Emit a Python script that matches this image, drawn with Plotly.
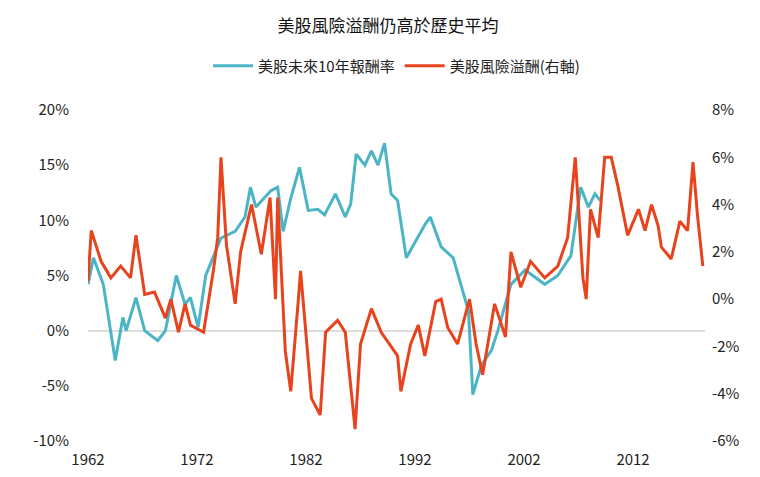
import plotly.graph_objects as go

blue_years = [1962.0,1962.5,1963.4,1964.5,1965.2,1965.5,1966.4,1967.2,1968.4,1969.1,1970.1,1970.9,1971.4,1972.1,1972.8,1974.2,1975.5,1976.4,1976.9,1977.4,1978.8,1979.4,1979.9,1980.6,1981.4,1982.2,1983.1,1983.7,1984.7,1985.6,1986.1,1986.6,1987.4,1988.0,1988.6,1989.2,1989.8,1990.4,1991.2,1991.6,1992.9,1993.4,1994.4,1995.5,1996.2,1996.9,1997.3,1998.1,1999.0,1999.6,2000.8,2002.1,2003.9,2005.1,2006.3,2007.2,2007.9,2008.5,2009.0]
blue_vals = [4.2,6.6,4.2,-2.7,1.2,0,3,0,-0.9,0,5,2.4,3,0.3,5,8.4,9,10.3,13,11.2,12.7,13,9,12,14.8,10.9,11,10.5,12.4,10.3,11.5,16,15,16.3,15,17,12.4,11.8,6.6,7.3,9.6,10.3,7.6,6.6,4.2,1.8,-5.8,-3.1,-1.8,0,4.2,5.5,4.2,5,6.8,13,11.2,12.4,11.8]

red_years = [1962.0,1962.3,1963.2,1964.1,1965.0,1965.9,1966.4,1967.2,1968.1,1969.1,1969.6,1970.3,1970.9,1971.4,1972.6,1973.5,1973.9,1974.2,1974.7,1975.5,1976.0,1977.0,1977.9,1978.7,1979.2,1979.4,1980.1,1980.6,1981.3,1981.5,1982.5,1983.3,1983.8,1984.9,1985.6,1986.5,1987.0,1988.0,1988.9,1990.0,1990.4,1990.7,1991.6,1992.3,1992.9,1993.9,1994.4,1995.0,1995.9,1997.0,1997.6,1998.2,1999.3,2000.3,2000.8,2001.7,2002.6,2003.9,2005.1,2006.0,2006.7,2007.4,2007.7,2008.1,2008.8,2009.4,2010.0,2010.6,2011.5,2012.5,2013.1,2013.7,2014.3,2014.6,2015.5,2016.3,2017.0,2017.5,2017.9,2018.4]
red_vals = [0.77,2.9,1.6,0.9,1.4,0.9,2.7,0.2,0.3,-0.8,0,-1.4,-0.2,-1.1,-1.4,1.2,2.6,6,2.3,-0.2,2,4,1.9,4.3,0,4.3,-2.2,-3.9,0,1.2,-4.2,-4.9,-1.4,-0.9,-1.4,-5.5,-1.9,-0.4,-1.4,-2.1,-2.4,-3.9,-1.9,-1.1,-2.4,-0.1,0,-1.2,-1.9,0,-1.9,-3.2,-0.2,-1.6,2,0.5,1.6,0.9,1.4,2.6,6,0.9,0,3.8,2.6,6,6,4.8,2.7,3.8,2.9,4,3.1,2.2,1.7,3.3,2.9,5.8,3.6,1.4]

x_ticks = [1962, 1972, 1982, 1992, 2002, 2012]
left_ticks = [20, 15, 10, 5, 0, -5, -10]
right_ticks = [8, 6, 4, 2, 0, -2, -4, -6]

font = "Noto Sans CJK TC"
fig = go.Figure()
fig.add_trace(go.Scatter(x=blue_years, y=blue_vals, mode="lines", name="美股未來10年報酬率",
                         line=dict(color="#4BB5C6", width=3)))
fig.add_trace(go.Scatter(x=red_years, y=red_vals, mode="lines", name="美股風險溢酬(右軸)",
                         line=dict(color="#E8431C", width=3), yaxis="y2"))
fig.update_layout(
    width=760, height=477, plot_bgcolor="white", paper_bgcolor="white",
    margin=dict(l=80, r=63, t=102, b=44, autoexpand=False),
    font=dict(family=font, size=15, color="#222"),
    title=dict(text="美股風險溢酬仍高於歷史平均", x=0.5, xanchor="center", y=0.962, yanchor="middle",
               font=dict(size=17, color="#111")),
    legend=dict(orientation="h", x=0.5, xanchor="center", y=1.133, yanchor="middle",
                font=dict(size=15), itemwidth=40, tracegroupgap=0),
    xaxis=dict(range=[1962, 2018.6], tickvals=x_ticks, ticktext=[str(t) for t in x_ticks],
               showgrid=False, zeroline=False, showline=False, ticks="", automargin=False,
               ticklabelstandoff=8),
    yaxis=dict(range=[-10, 20], tickvals=left_ticks, ticktext=[f"{t}%" for t in left_ticks],
               showgrid=False, zeroline=True, zerolinecolor="#dddddd", zerolinewidth=1.5, ticks="",
               automargin=False, ticklabelstandoff=18),
    yaxis2=dict(range=[-6, 8], tickvals=right_ticks, ticktext=[f"{t}%" for t in right_ticks],
                overlaying="y", side="right", showgrid=False, zeroline=False, ticks="",
                automargin=False, ticklabelstandoff=6),
)
fig.write_html("out.html")
